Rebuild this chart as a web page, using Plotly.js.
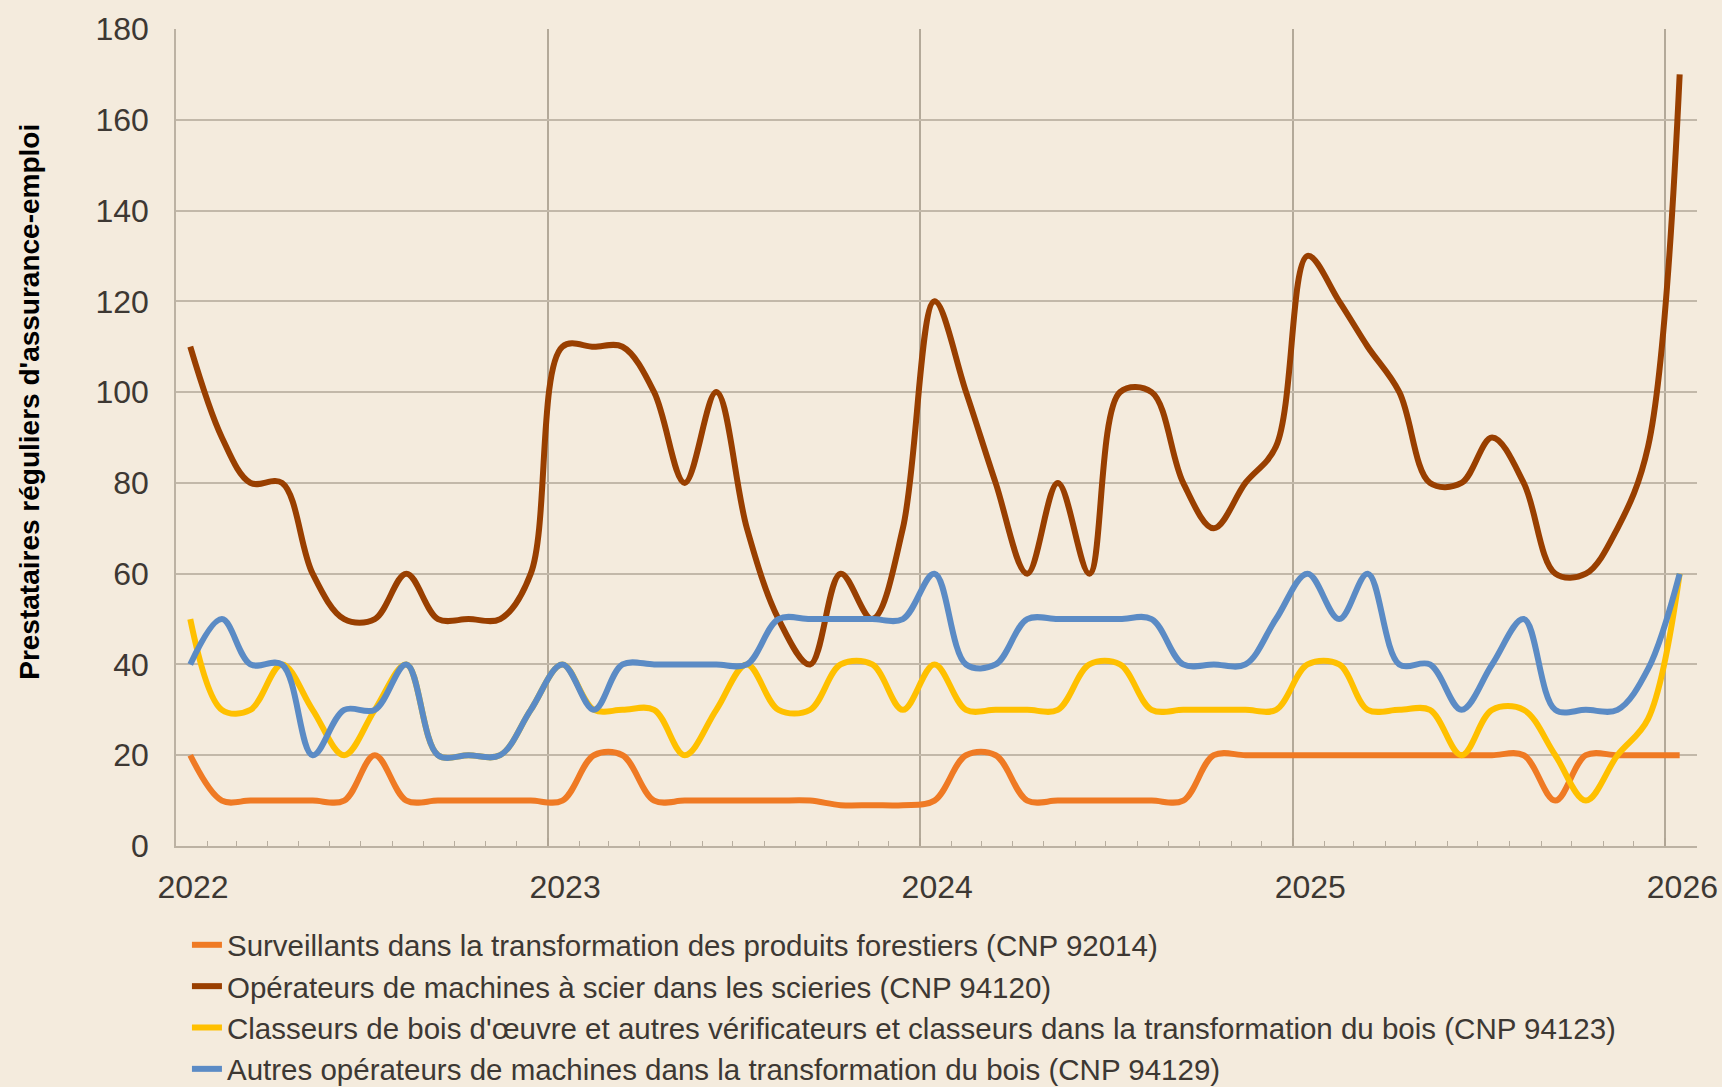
<!DOCTYPE html>
<html>
<head>
<meta charset="utf-8">
<script src="https://cdn.plot.ly/plotly-3.0.1.min.js"></script>
<style>
  html, body { margin: 0; padding: 0; background: #F4EBDD; }
  #chart { width: 1722px; height: 1087px; }
</style>
</head>
<body>
<div id="chart"></div>
<script>
// Monthly observation dates (mid-month), Jan 2022 – Jan 2026
const months = [
  '2022-01-15','2022-02-15','2022-03-15','2022-04-15','2022-05-15','2022-06-15',
  '2022-07-15','2022-08-15','2022-09-15','2022-10-15','2022-11-15','2022-12-15',
  '2023-01-15','2023-02-15','2023-03-15','2023-04-15','2023-05-15','2023-06-15',
  '2023-07-15','2023-08-15','2023-09-15','2023-10-15','2023-11-15','2023-12-15',
  '2024-01-15','2024-02-15','2024-03-15','2024-04-15','2024-05-15','2024-06-15',
  '2024-07-15','2024-08-15','2024-09-15','2024-10-15','2024-11-15','2024-12-15',
  '2025-01-15','2025-02-15','2025-03-15','2025-04-15','2025-05-15','2025-06-15',
  '2025-07-15','2025-08-15','2025-09-15','2025-10-15','2025-11-15','2025-12-15',
  '2026-01-15'
];

const seriesNames = [
  'Surveillants dans la transformation des produits forestiers (CNP 92014)',
  'Opérateurs de machines à scier dans les scieries (CNP 94120)',
  "Classeurs de bois d'œuvre et autres vérificateurs et classeurs dans la transformation du bois (CNP 94123)",
  'Autres opérateurs de machines dans la transformation du bois (CNP 94129)'
];

const cnp92014 = [20,10,10,10,10,10,20,10,10,10,10,10,
                  10,20,20,10,10,10,10,10,10,9,9,9,
                  10,20,20,10,10,10,10,10,10,20,20,20,
                  20,20,20,20,20,20,20,20,10,20,20,20,
                  20];
const cnp94120 = [110,90,80,80,60,50,50,60,50,50,50,60,
                  110,110,110,100,80,100,70,50,40,60,50,70,
                  120,100,80,60,80,60,100,100,80,70,80,88,
                  130,120,110,100,80,80,90,80,60,60,70,88,
                  170];
const cnp94123 = [50,30,30,40,30,20,30,40,20,20,20,30,
                  40,30,30,30,20,30,40,30,30,40,40,30,
                  40,30,30,30,30,40,40,30,30,30,30,30,
                  40,40,30,30,30,20,30,30,20,10,20,28,
                  60];
const cnp94129 = [40,50,40,40,20,30,30,40,20,20,20,30,
                  40,30,40,40,40,40,40,50,50,50,50,50,
                  60,40,40,50,50,50,50,50,40,40,40,50,
                  60,50,60,40,40,30,40,50,30,30,30,39,
                  60];

const yTitle = "Prestataires réguliers d'assurance-emploi";
const colors = ['#EF7A24', '#993F00', '#FFC000', '#5B8BC5'];
const seriesValues = [cnp92014, cnp94120, cnp94123, cnp94129];

const FONT = 'Liberation Sans, Arial, sans-serif';
const TXT = '#3d3833';

const traces = seriesValues.map((vals, i) => ({
  type: 'scatter',
  mode: 'lines',
  x: months,
  y: vals,
  name: seriesNames[i],
  line: { color: colors[i], width: 6, shape: 'spline', smoothing: 1 },
  hoverinfo: 'x+y+name'
}));

const layout = {
  width: 1722,
  height: 1087,
  paper_bgcolor: '#F4EBDD',
  plot_bgcolor: '#F4EBDD',
  margin: { l: 176, r: 25, t: 29, b: 241, autoexpand: false },
  font: { family: FONT, color: TXT, size: 29 },
  showlegend: true,
  legend: {
    x: 0.0072, y: -0.0895, xanchor: 'left', yanchor: 'top',
    orientation: 'v',
    bgcolor: 'rgba(0,0,0,0)',
    font: { family: FONT, size: 29.5, color: TXT },
    traceorder: 'normal',
    itemclick: false
  },
  xaxis: {
    type: 'date',
    range: ['2022-01-01', '2026-02-01'],
    tick0: '2022-01-01',
    dtick: 'M12',
    tickformat: '%Y',
    ticks: 'inside',
    ticklen: 8,
    tickcolor: '#b0a595',
    tickwidth: 1.5,
    ticklabelshift: 17,
    ticklabelstandoff: 12,
    tickfont: { family: FONT, size: 32, color: TXT },
    showgrid: true,
    gridcolor: '#b3a999',
    gridwidth: 1.5,
    showline: true,
    linecolor: '#bcb2a3',
    linewidth: 1.5,
    zeroline: false,
    minor: {
      dtick: 'M1',
      tick0: '2022-01-01',
      ticks: 'inside',
      ticklen: 5,
      tickcolor: '#b7ad9e',
      tickwidth: 1.2,
      showgrid: false
    }
  },
  yaxis: {
    range: [0, 180],
    tick0: 0,
    dtick: 20,
    ticks: '',
    ticklabelstandoff: 19,
    tickfont: { family: FONT, size: 32, color: TXT },
    showgrid: true,
    gridcolor: '#c2b8a9',
    gridwidth: 1.5,
    showline: true,
    linecolor: '#bcb2a3',
    linewidth: 1.5,
    zeroline: false
  },
  annotations: [{
    text: '<b>' + yTitle + '</b>',
    xref: 'paper', yref: 'paper',
    x: -0.096, y: 0.5437,
    xanchor: 'center', yanchor: 'middle',
    textangle: -90,
    showarrow: false,
    font: { family: FONT, size: 28, color: '#000000' }
  }]
};

Plotly.newPlot('chart', traces, layout, { displayModeBar: false, staticPlot: false });
</script>
</body>
</html>
